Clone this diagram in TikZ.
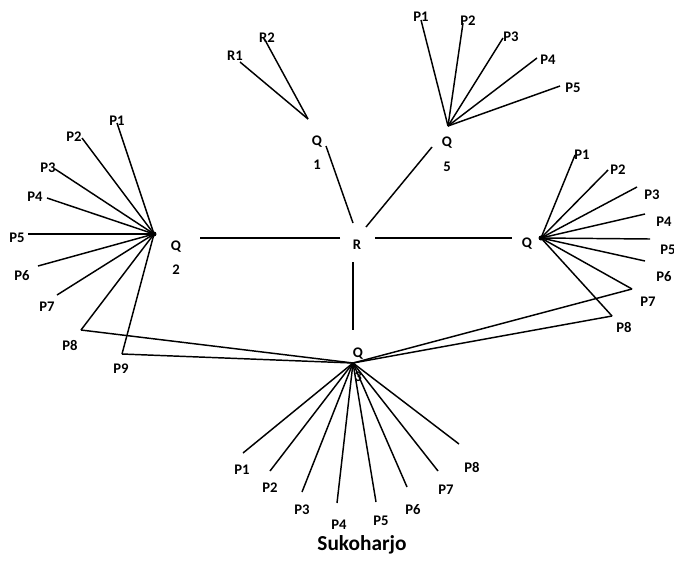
\documentclass[tikz,border=0pt]{standalone}
\usepackage{fontspec}
\setmainfont{Carlito}

\begin{document}
\begin{tikzpicture}[x=0.75pt, y=-0.75pt,
  link/.style={line width=1.1pt},
  lbl/.style={font=\bfseries\fontsize{11}{12}\selectfont, inner sep=0pt}]
\useasboundingbox (0,0) rectangle (674,579);

% hubs
\coordinate (q1) at (308,119);
\coordinate (q5) at (448,126);
\coordinate (q2) at (154,234);
\coordinate (q4) at (541,238);
\coordinate (q3) at (353,363);

% R and its links
\node[lbl] (r) at (357,245) {R};
\coordinate (rW) at (340,238);
\coordinate (rE) at (375,238);
\coordinate (rS) at (353,262);
\coordinate (rNW) at (353,223);
\coordinate (rNE) at (366,227);
\coordinate (q2E) at (200,238);
\coordinate (q4W) at (512,238);
\coordinate (q3N) at (353,330);
\coordinate (q1S) at (326,146);
\coordinate (q5S) at (432,147);
\draw[link] (rW) -- (q2E);
\draw[link] (rE) -- (q4W);
\draw[link] (rS) -- (q3N);
\draw[link] (rNW) -- (q1S);
\draw[link] (rNE) -- (q5S);

% hub labels
\node[lbl] (q1a) at (317,142) {Q};
\node[lbl] (q1b) at (317,165) {1};
\node[lbl] (q5a) at (447,143) {Q};
\node[lbl] (q5b) at (447,167) {5};
\node[lbl] (q2a) at (176,247) {Q};
\node[lbl] (q2b) at (176,270) {2};
\node[lbl] (q4a) at (527,244) {Q};
\node[lbl] (q3a) at (358,354) {Q};
\node[lbl] (q3b) at (358,377) {3};

% Q1
\foreach \n/\ex/\ey/\lx/\ly in {1/240/62/235/56, 2/265/40/267/38} {
  \coordinate (q1r\n) at (\ex,\ey);
  \node[lbl] (q1l\n) at (\lx,\ly) {R\n};
  \draw[link] (q1) -- (q1r\n);
}

% Q5
\foreach \n/\ex/\ey/\lx/\ly in {1/421/20/421/17, 2/463/23/468/21, 3/503/38/511/37,
    4/537/58/548/60, 5/560/86/573/88} {
  \coordinate (q5p\n) at (\ex,\ey);
  \node[lbl] (q5l\n) at (\lx,\ly) {P\n};
  \draw[link] (q5) -- (q5p\n);
}

% Q2
\foreach \n/\ex/\ey/\lx/\ly in {1/117/123/117/121, 2/82/138/74/137, 3/55/169/48/168,
    4/47/198/35/197, 5/28/234/17/238, 6/38/266/22/276, 7/57/295/47/307,
    8/81/330/70/345, 9/122/354/121/369} {
  \coordinate (q2p\n) at (\ex,\ey);
  \node[lbl] (q2l\n) at (\lx,\ly) {P\n};
  \draw[link] (q2) -- (q2p\n);
}
\fill (q2) circle (2.5);

% right Q
\foreach \n/\ex/\ey/\lx/\ly in {1/575/155/582/155, 2/608/170/618/170, 3/637/187/652/195,
    4/645/214/664/222, 5/650/239/668/250, 6/645/261/664/277, 7/632/289/648/302,
    8/612/316/624/327} {
  \coordinate (q4p\n) at (\ex,\ey);
  \node[lbl] (q4l\n) at (\lx,\ly) {P\n};
  \draw[link] (q4) -- (q4p\n);
}
\fill (q4) circle (2.5);

% Q3
\foreach \n/\ex/\ey/\lx/\ly in {1/243/453/242/470, 2/270/471/270/488, 3/302/492/302/510,
    4/337/503/339/525, 5/376/502/381/521, 6/407/487/413/510, 7/438/471/446/490,
    8/459/444/472/467} {
  \coordinate (q3p\n) at (\ex,\ey);
  \node[lbl] (q3l\n) at (\lx,\ly) {P\n};
  \draw[link] (q3) -- (q3p\n);
}

% cross links to Q3
\draw[link] (q2p8) -- (q3);
\draw[link] (q2p9) -- (q3);
\draw[link] (q4p7) -- (q3);
\draw[link] (q4p8) -- (q3);

\node[font=\bfseries\fontsize{16}{18}\selectfont, inner sep=0pt] (title) at (362,545) {Sukoharjo};
\end{tikzpicture}
\end{document}
